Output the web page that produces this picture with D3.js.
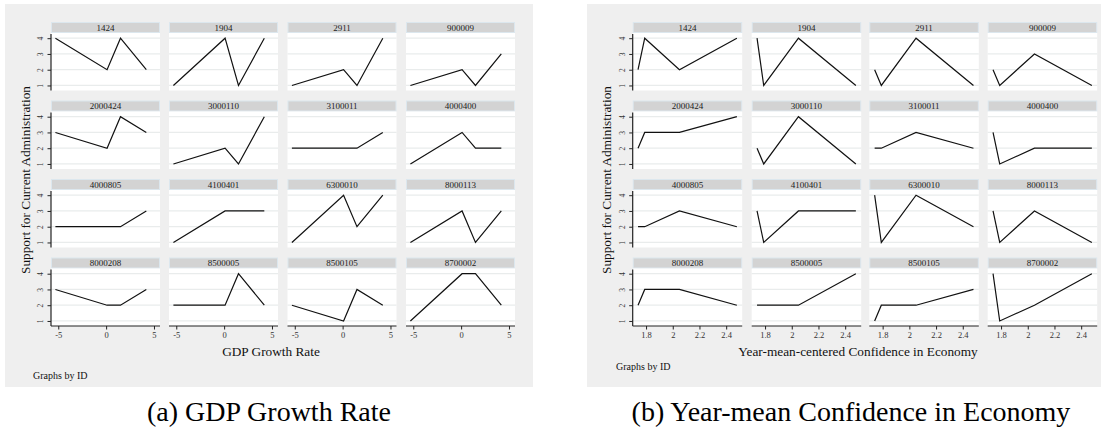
<!DOCTYPE html>
<html><head><meta charset="utf-8">
<script src="https://cdn.jsdelivr.net/npm/d3@7"></script>
<style>
html,body{margin:0;padding:0;background:#fff;}
svg{display:block;}
</style></head>
<body>
<svg id="chart" width="1104" height="437"></svg>
<script>
// ---------- data ----------
const ids = ["1424","1904","2911","900009",
             "2000424","3000110","3100011","4000400",
             "4000805","4100401","6300010","8000113",
             "8000208","8500005","8500105","8700002"];
const gdpX = [-5.3, 0.1, 1.5, 4.2];
const confX = [1.74, 1.79, 2.05, 2.48];
const supportByGdp = [
  [4,2,4,2],[1,4,1,4],[1,2,1,4],[1,2,1,3],
  [3,2,4,3],[1,2,1,4],[2,2,2,3],[1,3,2,2],
  [2,2,2,3],[1,3,3,3],[1,4,2,4],[1,3,1,3],
  [3,2,2,3],[2,2,4,2],[2,1,3,2],[1,4,4,2]
];
const supportByConf = [
  [2,4,2,4],[4,1,4,1],[2,1,4,1],[2,1,3,1],
  [2,3,3,4],[2,1,4,1],[2,2,3,2],[3,1,2,2],
  [2,2,3,2],[3,1,3,3],[4,1,4,2],[3,1,3,1],
  [2,3,3,2],[2,2,2,4],[1,2,2,3],[4,1,2,4]
];
const gdpTicks = [-5, 0, 5];
const confTicks = [1.8, 2, 2.2, 2.4];
const yTicks = [1, 2, 3, 4];
const yTitle = "Support for Current Administration";

// ---------- layout ----------
const FONT = "Liberation Serif";
const svg = d3.select("#chart").attr("font-family", FONT);
const rowTops = [22, 100.5, 179, 257.5];
const stripH = 11, plotH = 57.5;
const yDomain = [0.68, 4.33];

const panels = [
  {bgX:5, bgW:528, cols:[51,169,287.5,406], colW:109, xDomain:[-5.76,5.63],
   xTicks:gdpTicks, xVals:gdpX, ys:supportByGdp, ytitleX:25,
   xtitle:"GDP Growth Rate", xtitleX:271, gbX:33, gbY:375,
   caption:"(a) GDP Growth Rate", capX:269},
  {bgX:587, bgW:514, cols:[632.7,751.7,869.3,987.7], colW:109.5, xDomain:[1.70,2.52],
   xTicks:confTicks, xVals:confX, ys:supportByConf, ytitleX:606.5,
   xtitle:"Year-mean-centered Confidence in Economy", xtitleX:858, gbX:616, gbY:366,
   caption:"(b) Year-mean Confidence in Economy", capX:851}
];

panels.forEach(p => {
  const g = svg.append("g");
  g.append("rect").attr("x",p.bgX).attr("y",4).attr("width",p.bgW).attr("height",383)
    .attr("fill","#efefef");

  ids.forEach((id,i) => {
    const r = Math.floor(i/4), c = i%4;
    const x0 = p.cols[c], top = rowTops[r];
    const pTop = top + stripH, pBot = pTop + plotH;
    const x = d3.scaleLinear().domain(p.xDomain).range([x0, x0 + p.colW]);
    const y = d3.scaleLinear().domain(yDomain).range([pBot, pTop]);

    // strip
    g.append("rect").attr("x",x0+0.5).attr("y",top+0.5).attr("width",p.colW-1).attr("height",stripH-1)
      .attr("fill","#d3d3d3").attr("stroke","#dce7ee").attr("stroke-width",1);
    g.append("text").attr("x",x0+p.colW/2).attr("y",top+8.6).attr("text-anchor","middle")
      .attr("font-family",FONT).attr("font-size",9).attr("fill","#222").text(id);

    // plot region
    g.append("rect").attr("x",x0).attr("y",pTop).attr("width",p.colW).attr("height",plotH)
      .attr("fill","#ffffff");
    g.selectAll(null).data(yTicks).enter().append("line")
      .attr("x1",x0).attr("x2",x0+p.colW)
      .attr("y1",d=>y(d)).attr("y2",d=>y(d))
      .attr("stroke","#e9ecec").attr("stroke-width",1.2);

    // y axis on first column
    if (c === 0) {
      const ya = g.append("g").attr("transform",`translate(${x0},0)`)
        .call(d3.axisLeft(y).tickValues(yTicks).tickSize(3.5).tickPadding(0).tickFormat(d => String(d)));
      ya.attr("font-family",FONT);
      ya.select(".domain").attr("d",`M0,${pTop+1}V${pBot}`).attr("stroke","#222").attr("stroke-width",1.2);
      ya.selectAll(".tick line").attr("stroke","#222").attr("stroke-width",1);
      ya.selectAll(".tick text").attr("font-family",FONT).attr("font-size",7.5)
        .attr("fill","#333").attr("x",-10.5).attr("dy",0).attr("text-anchor","middle")
        .attr("dominant-baseline","central")
        .attr("transform","rotate(-90,-10.5,0)");
    }
    // x axis on last row
    if (r === 3) {
      const xa = g.append("g").attr("transform",`translate(0,${pBot})`)
        .call(d3.axisBottom(x).tickValues(p.xTicks).tickSize(3.5).tickPadding(2.5).tickFormat(d => String(d)));
      xa.attr("font-family",FONT);
      xa.select(".domain").attr("d",`M${x0},0H${x0+p.colW}`).attr("stroke","#222").attr("stroke-width",1.2);
      xa.selectAll(".tick line").attr("stroke","#222").attr("stroke-width",1);
      xa.selectAll(".tick text").attr("font-family",FONT).attr("font-size",8.5)
        .attr("fill","#333");
    }

    // line
    const pts = p.xVals.map((xv,k) => [xv, p.ys[i][k]]);
    g.append("path").datum(pts)
      .attr("d", d3.line().x(d=>x(d[0])).y(d=>y(d[1])))
      .attr("fill","none").attr("stroke","#111").attr("stroke-width",1.2)
      .attr("stroke-linejoin","miter");
  });

  // titles
  g.append("text").attr("transform",`translate(${p.ytitleX},180) rotate(-90)`)
    .attr("text-anchor","middle").attr("dominant-baseline","central")
    .attr("font-family",FONT).attr("font-size",13.3).attr("fill","#111").text(yTitle);
  g.append("text").attr("x",p.xtitleX).attr("y",356).attr("text-anchor","middle")
    .attr("font-family",FONT).attr("font-size",13.3).attr("fill","#111").text(p.xtitle);
  g.append("text").attr("x",p.gbX).attr("y",p.gbY+3.5)
    .attr("font-family",FONT).attr("font-size",10).attr("fill","#111").text("Graphs by ID");
  svg.append("text").attr("x",p.capX).attr("y",421).attr("text-anchor","middle")
    .attr("font-family",FONT).attr("font-size",28).attr("fill","#000").text(p.caption);
});
</script>
</body></html>
